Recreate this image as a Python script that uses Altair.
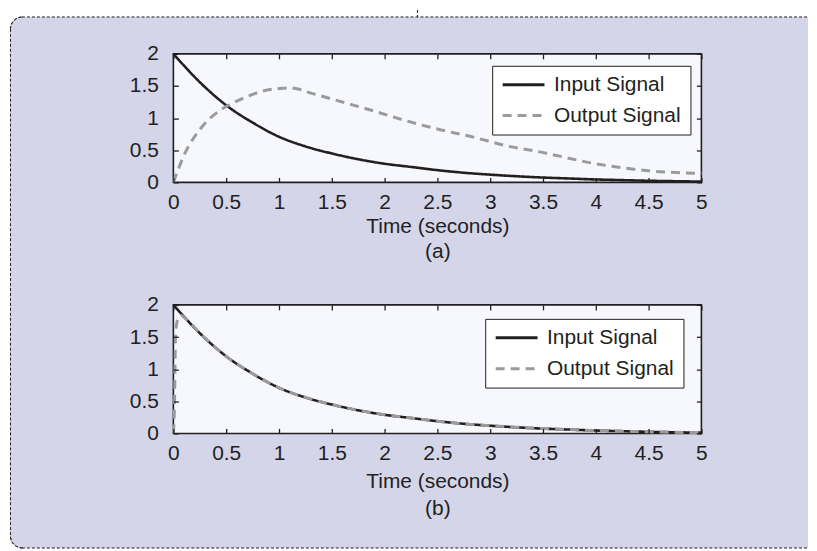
import math
import altair as alt
import pandas as pd

# ---------------- data ----------------
series_names = ["Input Signal", "Output Signal"]

t_in = [0, 0.25, 0.5, 0.75, 1.0, 1.25, 1.5, 1.75, 2.0, 2.25, 2.5,
        2.75, 3.0, 3.25, 3.5, 3.75, 4.0, 4.25, 4.5, 4.75, 5.0]
input_a = [2.0, 1.56, 1.2, 0.93, 0.71, 0.56, 0.45, 0.36, 0.29, 0.24, 0.19,
           0.15, 0.12, 0.095, 0.075, 0.06, 0.045, 0.035, 0.025, 0.018, 0.012]

t_out_a = [0, 0.05, 0.1, 0.15, 0.2, 0.25, 0.3, 0.4, 0.5, 0.62, 0.75, 0.87,
           1.0, 1.09, 1.19, 1.28, 1.41, 1.6, 1.9, 2.2, 2.5, 2.85, 3.15,
           3.45, 4.0, 4.5, 5.0]
output_a = [0, 0.22, 0.42, 0.58, 0.71, 0.82, 0.92, 1.07, 1.18, 1.28, 1.37,
            1.43, 1.46, 1.47, 1.45, 1.4, 1.34, 1.25, 1.11, 0.96, 0.83, 0.70,
            0.57, 0.48, 0.29, 0.18, 0.14]

input_b = [2.0, 1.56, 1.2, 0.93, 0.71, 0.56, 0.45, 0.36, 0.29, 0.24, 0.19,
           0.15, 0.12, 0.095, 0.075, 0.06, 0.045, 0.035, 0.025, 0.018, 0.012]

t_out_b = [0, 0.01, 0.02, 0.035, 0.07, 0.12, 0.25, 0.5, 0.75, 1.0, 1.25,
           1.5, 1.75, 2.0, 2.25, 2.5, 2.75, 3.0, 3.25, 3.5, 3.75, 4.0,
           4.25, 4.5, 4.75, 5.0]
output_b = [0, 0.4, 1.5, 1.74, 1.84, 1.78, 1.56, 1.2, 0.93, 0.71, 0.56,
            0.45, 0.36, 0.29, 0.24, 0.19, 0.15, 0.12, 0.095, 0.075, 0.06,
            0.045, 0.035, 0.025, 0.018, 0.012]

x_ticks = [0, 0.5, 1, 1.5, 2, 2.5, 3, 3.5, 4, 4.5, 5]
y_ticks = [0, 0.5, 1, 1.5, 2]

# ---------------- styling ----------------
W, H = 530, 129
LAV = "#d5d5ea"
PLOT_BG = "#f7f8fd"
INK = "#231f20"
GRAY = "#9b9b9b"
FONT = "Liberation Sans"
FS = 21
RIGHT = 637  # right end of the lavender panel, relative to the top plot origin

one = pd.DataFrame({"a": [0]})


def axis_common(**kw):
    base = dict(offset=-5, tickSize=5, tickColor=INK, tickWidth=1.3,
                domain=False, grid=False, zindex=1, labelFont=FONT,
                labelFontSize=FS, labelColor=INK, labelFlush=False,
                labelOverlap=False)
    base.update(kw)
    return alt.Axis(**base)


def legend(lx, ly):
    return alt.Legend(orient="none", legendX=lx, legendY=ly, title=None,
                      symbolType="stroke", symbolSize=1764,
                      symbolStrokeWidth=3, clipHeight=20, rowPadding=10,
                      labelOffset=8, padding=9, strokeColor=INK,
                      fillColor="white", labelFont=FONT, labelFontSize=FS,
                      labelColor=INK, symbolOffset=0)


def decoration():
    dash = [3, 2]
    rect = alt.Chart(one).mark_rect(fill=LAV, strokeWidth=0,
                                    cornerRadiusTopLeft=12,
                                    cornerRadiusBottomLeft=12).encode(
        x=alt.value(-164), x2=alt.value(RIGHT), y=alt.value(-37), y2=alt.value(496))
    top = alt.Chart(one).mark_rule(stroke=INK, strokeDash=dash, strokeWidth=1).encode(
        x=alt.value(-152), x2=alt.value(RIGHT), y=alt.value(-37))
    bottom = alt.Chart(one).mark_rule(stroke=INK, strokeDash=dash, strokeWidth=1).encode(
        x=alt.value(-152), x2=alt.value(RIGHT), y=alt.value(496))
    left = alt.Chart(one).mark_rule(stroke=INK, strokeDash=dash, strokeWidth=1).encode(
        x=alt.value(-163.5), y=alt.value(-25), y2=alt.value(484))
    notch = alt.Chart(one).mark_rule(stroke=INK, strokeDash=dash, strokeWidth=1).encode(
        x=alt.value(245), y=alt.value(-44), y2=alt.value(-37))
    arc_tl = alt.Chart(one).mark_arc(radius=12, radius2=12, theta=3 * math.pi / 2,
                                     theta2=2 * math.pi, fillOpacity=0, stroke=INK,
                                     strokeDash=dash, strokeWidth=1).encode(
        x=alt.value(-151.5), y=alt.value(-25))
    arc_bl = alt.Chart(one).mark_arc(radius=12, radius2=12, theta=math.pi,
                                     theta2=3 * math.pi / 2, fillOpacity=0, stroke=INK,
                                     strokeDash=dash, strokeWidth=1).encode(
        x=alt.value(-151.5), y=alt.value(484))
    return [rect, top, bottom, left, notch, arc_tl, arc_bl]


def panel(tin, vin, tout, vout, tag, lx, ly, line_h, t_pad, deco):
    din = pd.DataFrame({"t": tin, "v": vin, "series": series_names[0]})
    dout = pd.DataFrame({"t": tout, "v": vout, "series": series_names[1]})
    xs = alt.Scale(domain=[0, 5], nice=False, zero=False)
    ys = alt.Scale(domain=[0, 2], nice=False)
    leg = legend(lx, ly)
    color = alt.Color("series:N", scale=alt.Scale(domain=series_names, range=[INK, GRAY]),
                      legend=leg)
    sdash = alt.StrokeDash("series:N", scale=alt.Scale(domain=series_names,
                                                       range=[[1, 0], [9, 6]]),
                           legend=leg)

    plot_bg = alt.Chart(one).mark_rect(fill=PLOT_BG, stroke=INK, strokeWidth=1.6).encode(
        x=alt.value(0), x2=alt.value(W), y=alt.value(0), y2=alt.value(H))

    line_in = alt.Chart(din).mark_line(strokeWidth=2.6, interpolate="monotone").encode(
        x=alt.X("t:Q", scale=xs, axis=axis_common(
            orient="bottom", values=x_ticks, format="~g", labelPadding=9,
            title=["Time (seconds)", tag], titleFont=FONT, titleFontSize=FS,
            titleFontWeight="normal", titleColor=INK, titlePadding=t_pad,
            titleLineHeight=line_h)),
        y=alt.Y("v:Q", scale=ys, axis=axis_common(
            orient="left", values=y_ticks, format="~g", labelPadding=15, title=None)),
        color=color, strokeDash=sdash)

    line_out = alt.Chart(dout).mark_line(strokeWidth=3, interpolate="monotone").encode(
        x=alt.X("t:Q", scale=xs, axis=axis_common(
            orient="top", values=x_ticks, labels=False, title=None)),
        y=alt.Y("v:Q", scale=ys, axis=axis_common(
            orient="right", values=y_ticks, labels=False, title=None)),
        color=color, strokeDash=sdash)

    layers = (decoration() if deco else []) + [plot_bg, line_in, line_out]
    return alt.layer(*layers).resolve_axis(x="independent", y="independent").properties(
        width=W, height=H)


top = panel(t_in, input_a, t_out_a, output_a, "(a)", 320, 12, 25, 3, True)
bottom = panel(t_in, input_b, t_out_b, output_b, "(b)", 313, 14, 27, 7, False)

chart = alt.vconcat(top, bottom, spacing=123, bounds="flush").resolve_scale(
    color="independent", strokeDash="independent").resolve_legend(
    color="independent", strokeDash="independent").properties(
    padding=0).configure(background="white", font=FONT).configure_view(strokeWidth=0)

chart.save("out.html", embed_options={"renderer": "svg", "actions": False})
